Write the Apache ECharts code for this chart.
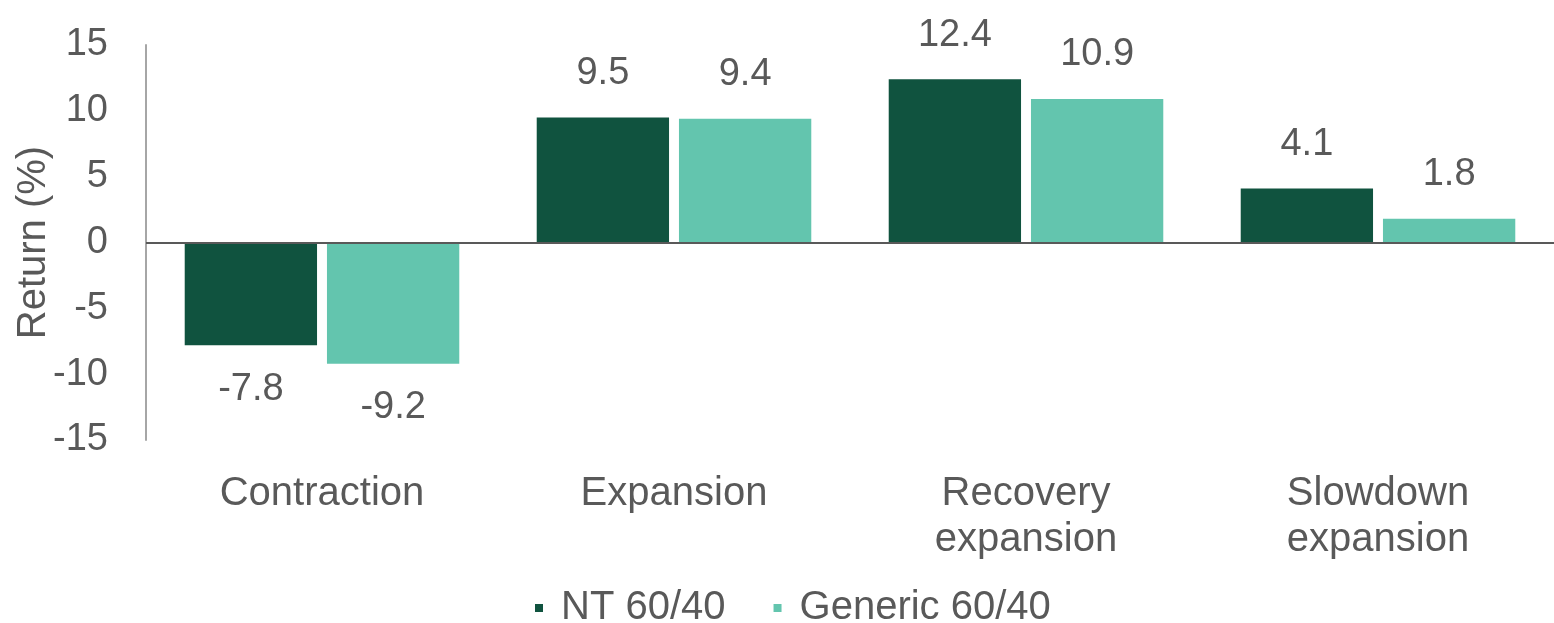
<!DOCTYPE html>
<html><head><meta charset="utf-8">
<script src="https://cdn.jsdelivr.net/npm/echarts@6/dist/echarts.min.js"></script>
<style>html,body{margin:0;padding:0;background:#fff}#c{width:1554px;height:623px}</style>
</head><body><div id="c"></div>
<script>
const categories = ['Contraction', 'Expansion', 'Recovery\nexpansion', 'Slowdown\nexpansion'];
const ntValues = [-7.8, 9.5, 12.4, 4.1];
const genericValues = [-9.2, 9.4, 10.9, 1.8];
const seriesNames = ['NT 60/40', 'Generic 60/40'];
const yTicks = { min: -15, max: 15, interval: 5 };

const FONT = 'Liberation Sans, Arial, sans-serif';
const TXT = '#595959';
function items(vals) {
  return vals.map(v => ({ value: v, label: { position: v < 0 ? 'bottom' : 'top' } }));
}
const chart = echarts.init(document.getElementById('c'));
chart.setOption({
  animation: false,
  textStyle: { fontFamily: FONT },
  grid: { left: 146, right: 0, top: 45, bottom: 183, containLabel: false, outerBoundsMode: 'none' },
  legend: {
    data: seriesNames, bottom: -10, left: 530, icon: 'rect',
    itemWidth: 8, itemHeight: 8, itemGap: 48,
    textStyle: { fontSize: 40, color: TXT, fontFamily: FONT, padding: [0, 0, 0, 13] }
  },
  xAxis: {
    type: 'category', data: categories,
    axisLine: { show: false }, axisTick: { show: false },
    axisLabel: { fontSize: 40, color: TXT, margin: 31, lineHeight: 46, fontFamily: FONT }
  },
  yAxis: {
    type: 'value', min: yTicks.min, max: yTicks.max, interval: yTicks.interval,
    name: 'Return (%)', nameLocation: 'middle', nameGap: 92, nameMoveOverlap: false,
    nameTextStyle: { fontSize: 40, color: TXT, fontFamily: FONT },
    axisLine: { show: true, lineStyle: { color: '#a6a6a6', width: 2 } },
    axisTick: { show: false }, splitLine: { show: false },
    axisLabel: { fontSize: 38, color: TXT, margin: 38, fontFamily: FONT }
  },
  series: [
    {
      name: seriesNames[0], type: 'bar', data: items(ntValues),
      itemStyle: { color: '#10533f' }, barGap: '7.5%', barCategoryGap: '22%',
      label: { show: true, fontSize: 38, color: TXT, distance: 25, fontFamily: FONT },
      markLine: { silent: true, symbol: 'none', label: { show: false },
        lineStyle: { color: '#595959', width: 2, type: 'solid' }, data: [{ yAxis: 0 }] }
    },
    {
      name: seriesNames[1], type: 'bar', data: items(genericValues),
      itemStyle: { color: '#63c5ae' },
      label: { show: true, fontSize: 38, color: TXT, distance: 25, fontFamily: FONT }
    }
  ]
});
</script></body></html>
